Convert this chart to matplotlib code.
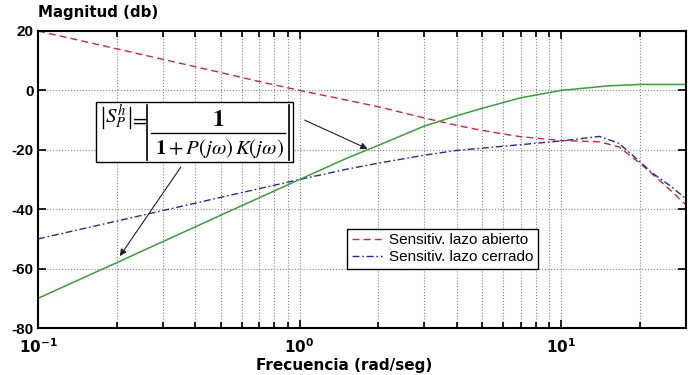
import matplotlib
matplotlib.use('Agg')
import matplotlib.pyplot as plt
from matplotlib.lines import Line2D
from matplotlib.patches import Rectangle
import numpy as np

# frecuencias (rad/seg) y magnitudes (dB)
w_abierto = [0.1, 0.2, 0.5, 0.7, 1, 1.5, 2, 3, 4, 5, 7, 10, 14, 16.6, 20, 25, 30]
mag_abierto = [20, 14, 6, 3, 0, -3.2, -5.5, -9.3, -11.8, -13.5, -15.6, -16.9,
               -17.3, -19, -24.5, -32, -38.5]

w_cerrado = [0.1, 0.2, 0.5, 1, 1.5, 2, 3, 4, 6, 8, 10, 12, 14, 16.6, 20, 22.2, 26, 30]
mag_cerrado = [-50, -44, -36, -30, -26.6, -24.5, -21.8, -20.2, -18.8, -17.8,
               -17, -16.2, -15.5, -17.8, -24, -27.7, -32, -36.5]

w_comp = [0.1, 0.2, 0.5, 1, 1.5, 2, 3, 4, 5, 7, 10, 15, 20, 30]
mag_comp = [-70, -58, -42, -30, -23, -18.5, -12, -8.5, -6, -2.5, 0, 1.5, 2, 2]

etiquetas = ['Sensitiv. lazo abierto', 'Sensitiv. lazo cerrado']
yticks = [20, 0, -20, -40, -60, -80]
xticks = [0.1, 1, 10]
xticklabels = [r'$\mathbf{10^{-1}}$', r'$\mathbf{10^{0}}$', r'$\mathbf{10^{1}}$']

# flechas de la anotacion: (inicio, punta)
flecha1 = [(1.045, -10.0), (1.82, -19.7)]
flecha2 = [(0.3515, -25.8), (0.2055, -55.8)]

W, H = 692, 375
fig = plt.figure(figsize=(W / 100, H / 100), dpi=100)
ax = fig.add_axes([38 / W, 1 - 328 / H, 648 / W, 297 / H])


def px(x, y):
    # pixel (desde arriba a la izquierda) -> coordenadas de figura
    return x / W, 1 - y / H


ax.semilogx(w_abierto, mag_abierto, color='#c8283c', linestyle='--', lw=1.0,
            dashes=(5, 3), label=etiquetas[0])
ax.semilogx(w_cerrado, mag_cerrado, color='#2a2a9a', lw=1.0,
            dashes=(5, 2, 1.2, 2), label=etiquetas[1])
ax.semilogx(w_comp, mag_comp, color='#3c9e3c', linestyle='-', lw=1.1)

ax.set_xlim(0.1, 30)
ax.set_ylim(-80, 20)
ax.set_yticks(yticks)
ax.set_yticklabels([str(t) for t in yticks], fontweight='bold',
                   family='Liberation Sans', fontsize=11)
ax.set_xticks(xticks)
ax.set_xticklabels(xticklabels, fontsize=11)

ax.grid(True, which='major', axis='y', color='#888888', linestyle=':', lw=0.8)
ax.grid(True, which='both', axis='x', color='#888888', linestyle=':', lw=0.8)
ax.tick_params(which='both', direction='in', top=True, right=True, width=1.2)
ax.tick_params(which='major', length=6)
ax.tick_params(axis='x', which='major', pad=7)
ax.tick_params(axis='y', which='major', pad=3)
ax.tick_params(which='minor', length=4, labelbottom=False)
for s in ax.spines.values():
    s.set_linewidth(1.5)

fig.text(0.055, 0.968, 'Magnitud (db)', fontweight='bold', fontsize=10.8,
         ha='left', va='center')
ax.set_xlabel('Frecuencia (rad/seg)', fontweight='bold', fontsize=11)
ax.xaxis.set_label_coords(0.472, -0.1)
ax.xaxis.label.set_va('top')

# recuadro con la formula |S_P^h| = |1 / (1 + P(jw) K(jw))|
fig.add_artist(Rectangle(px(96, 162), 197 / W, 60 / H, transform=fig.transFigure,
                         fc='white', ec='black', lw=1.0, zorder=5))
mkw = dict(math_fontfamily='stix', ha='center', va='center', zorder=6)
fig.text(*px(116, 117), r'$S_P^h$', fontsize=15, **mkw)
fig.text(*px(138, 120), r'$=$', fontsize=15, **mkw)
fig.text(*px(218, 119), r'$\mathbf{1}$', fontsize=17, **mkw)
fig.text(*px(219, 149), r'$\mathbf{1}+P(j\omega)\,K(j\omega)$', fontsize=15, **mkw)
for xs, ys, lw in [((151, 285), (133, 133), 1.0),
                   ((103, 103), (107, 128), 1.0),
                   ((130, 130), (107, 128), 1.0),
                   ((147, 147), (105, 160), 1.2),
                   ((289, 289), (105, 160), 1.2)]:
    x0, y0 = px(xs[0], ys[0])
    x1, y1 = px(xs[1], ys[1])
    fig.add_artist(Line2D([x0, x1], [y0, y1], transform=fig.transFigure,
                          color='black', lw=lw, zorder=6))

for f in (flecha1, flecha2):
    ax.annotate('', xy=f[1], xytext=f[0],
                arrowprops=dict(arrowstyle='-|>', color='#222222', lw=0.8,
                                mutation_scale=10, shrinkA=0, shrinkB=0))

leg = ax.legend(loc='lower left', bbox_to_anchor=(309 / 648, 59 / 297),
                borderaxespad=0, prop={'family': 'Liberation Sans', 'size': 11},
                frameon=True, fancybox=False, framealpha=1, edgecolor='black',
                handlelength=2.0, borderpad=0.3, labelspacing=0.2,
                handletextpad=0.45)
leg.get_frame().set_linewidth(1.0)

plt.savefig('out.png', dpi=100)
